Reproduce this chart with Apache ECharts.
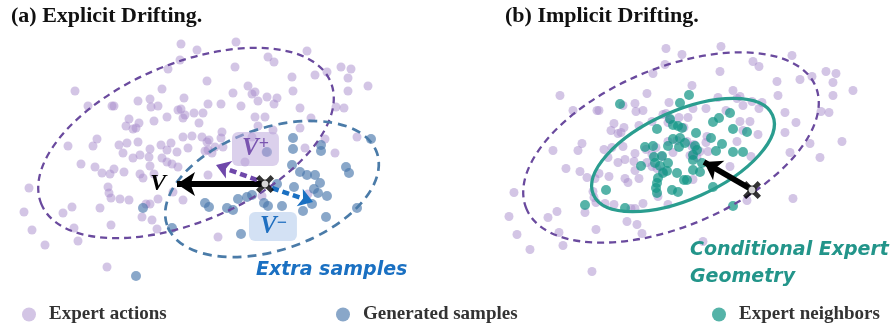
<!DOCTYPE html>
<html>
<head>
<meta charset="utf-8">
<script src="https://cdn.jsdelivr.net/npm/echarts@6/dist/echarts.min.js"></script>
<style>
  html, body { margin: 0; padding: 0; background: #fff; }
  #chart { width: 893px; height: 327px; }
</style>
</head>
<body>
<div id="chart"></div>
<script>
// 坐标单位 = 面板 (a) 的像素；面板 (b) 的专家点与 (a) 同一批，只是网格平移

const expertActions = [
  [181, 44], [236, 42], [197, 50], [307, 51], [180, 60], [268, 57], [274, 62], [235, 67],
  [168, 69], [315, 75], [327, 72], [341, 67], [351, 69], [348, 78], [292, 77], [207, 81],
  [248, 86], [255, 92], [252, 94], [368, 86], [348, 91], [293, 91], [75, 91], [162, 89],
  [233, 93], [258, 101], [267, 97], [277, 98], [274, 104], [184, 98], [150, 99], [138, 101],
  [88, 106], [112, 106], [114, 106], [151, 107], [158, 106], [208, 104], [221, 104], [241, 106],
  [300, 108], [336, 107], [344, 108], [178, 110], [181, 109], [194, 113], [203, 113], [185, 115],
  [183, 118], [167, 117], [129, 119], [154, 121], [139, 123], [199, 123], [255, 117], [265, 117],
  [311, 118], [126, 126], [133, 129], [136, 128], [258, 126], [300, 128], [273, 130], [222, 132],
  [97, 139], [93, 146], [68, 146], [119, 145], [127, 143], [138, 142], [171, 143], [161, 145],
  [183, 137], [192, 136], [202, 137], [209, 140], [221, 138], [252, 137], [357, 137], [325, 139],
  [305, 148], [335, 153], [207, 142], [208, 150], [215, 147], [212, 153], [223, 147], [205, 151],
  [188, 148], [177, 152], [167, 150], [150, 149], [123, 153], [140, 155], [133, 158], [149, 157],
  [162, 158], [81, 164], [95, 167], [102, 173], [110, 174], [114, 169], [124, 172], [140, 174],
  [143, 178], [150, 166], [154, 174], [167, 162], [172, 164], [178, 167], [245, 162], [208, 175],
  [29, 188], [108, 187], [109, 193], [111, 198], [120, 199], [129, 200], [150, 204], [146, 204],
  [158, 199], [183, 200], [173, 192], [24, 212], [63, 213], [72, 207], [100, 208], [142, 217],
  [152, 220], [32, 230], [74, 228], [111, 225], [157, 229], [45, 245], [78, 241], [107, 267],
  [218, 237], [308, 194], [262, 196], [266, 152]
];

const generatedSamples = [
  [371, 139], [293, 138], [293, 149], [321, 145], [321, 151], [267, 152], [292, 165], [300, 172],
  [307, 175], [315, 175], [346, 167], [349, 173], [320, 183], [294, 187], [314, 189], [318, 193],
  [327, 196], [312, 204], [303, 211], [357, 208], [326, 217], [205, 203], [209, 207], [227, 208],
  [233, 210], [238, 199], [247, 197], [252, 195], [264, 203], [268, 206], [277, 184], [282, 206],
  [241, 234], [143, 208], [172, 228], [136, 276]
];

// 画布像素坐标
const expertNeighbors = [
  [620, 104], [689, 95], [680, 103], [670, 119], [673, 125], [657, 129], [678, 126], [682, 128],
  [696, 133], [719, 118], [713, 122], [730, 113], [733, 129], [747, 132], [673, 139], [680, 138],
  [685, 143], [668, 146], [679, 147], [645, 147], [653, 146], [711, 138], [695, 146], [697, 150],
  [722, 144], [716, 151], [733, 152], [743, 152], [654, 157], [662, 156], [668, 163], [655, 163],
  [660, 166], [667, 171], [663, 173], [641, 166], [693, 155], [693, 160], [702, 163], [693, 170],
  [700, 172], [677, 173], [658, 178], [657, 183], [656, 188], [657, 193], [684, 180], [687, 180],
  [672, 190], [678, 192], [713, 187], [606, 190], [585, 205], [625, 208], [733, 206]
];

// [cx, cy, 长半轴, 短半轴, 倾角°]
const expertEllipse = [[186, 143, 157, 79, 23]];
const generatedEllipse = [[272, 189, 111, 61, 19]];
const neighborEllipse = [[683, 155, 98, 44, 24]];

// [起点, 终点]
const arrowV = [[262, 184], [177, 184]];
const arrowVPlus = [[257, 180], [216, 165]];
const arrowVMinus = [[272, 188], [313, 202]];
const arrowB = [[749, 188], [704, 162]];
const queryPoints = [[265, 184], [752, 190]];

const PURPLE_DOT = 'rgba(165, 138, 203, 0.62)';
const BLUE_DOT = 'rgba(75, 120, 172, 0.82)';
const TEAL_DOT = 'rgba(20, 150, 135, 0.9)';
const SERIF = 'Liberation Serif, Times New Roman, serif';
const HAND = 'Comic Sans MS, DejaVu Sans, sans-serif';

const CROSS = 'path://M3,0 L8,5 L13,0 L16,3 L11,8 L16,13 L13,16 L8,11 L3,16 L0,13 L5,8 L0,3 Z';

function ellipseRenderer(color, width, dash) {
  return function (params, api) {
    const c = api.coord([api.value(0), api.value(1)]);
    const s = api.size([api.value(2), api.value(3)]);
    return {
      type: 'ellipse',
      x: c[0],
      y: c[1],
      rotation: api.value(4) * Math.PI / 180,
      shape: { cx: 0, cy: 0, rx: Math.abs(s[0]), ry: Math.abs(s[1]) },
      style: { fill: null, stroke: color, lineWidth: width, lineDash: dash },
      silent: true,
    };
  };
}

function arrow(name, coords, color, width, head, type) {
  return {
    name: name,
    type: 'lines',
    coordinateSystem: 'cartesian2d',
    xAxisIndex: 0,
    yAxisIndex: 0,
    z: 6,
    symbol: ['none', 'arrow'],
    symbolSize: [0, head],
    lineStyle: { color: color, width: width, type: type, opacity: 1 },
    data: [{ coords: coords }],
    silent: true,
  };
}

const legendText = { fontFamily: SERIF, fontWeight: 'bold', fontSize: 19, color: '#333', padding: [0, 0, 0, 8] };

const chart = echarts.init(document.getElementById('chart'));

chart.setOption({
  animation: false,
  grid: [
    { left: 0, top: 0, width: 893, height: 327 },
    { left: 485, top: 4.5, width: 408, height: 322.5 },
  ],
  xAxis: [
    { gridIndex: 0, type: 'value', min: 0, max: 893, show: false },
    { gridIndex: 1, type: 'value', min: 0, max: 408, show: false },
  ],
  yAxis: [
    { gridIndex: 0, type: 'value', min: 0, max: 327, inverse: true, show: false },
    { gridIndex: 1, type: 'value', min: 0, max: 322.5, inverse: true, show: false },
  ],
  title: [
    { text: '(a) Explicit Drifting.', left: 6, top: 0, textStyle: { fontFamily: SERIF, fontWeight: 'bold', fontSize: 22, color: '#111' } },
    { text: '(b) Implicit Drifting.', left: 500, top: 0, textStyle: { fontFamily: SERIF, fontWeight: 'bold', fontSize: 22, color: '#111' } },
  ],
  legend: [
    { data: ['Expert actions'], left: 17, top: 300, icon: 'circle', itemWidth: 14, itemHeight: 14, textStyle: legendText },
    { data: ['Generated samples'], left: 331, top: 300, icon: 'circle', itemWidth: 14, itemHeight: 14, textStyle: legendText },
    { data: ['Expert neighbors'], left: 707, top: 300, icon: 'circle', itemWidth: 14, itemHeight: 14, textStyle: legendText },
  ],
  graphic: [
    { type: 'text', left: 150, top: 172, z: 20,
      style: { text: 'V', font: 'italic bold 24px ' + SERIF, fill: '#000' } },
    { type: 'text', left: 232, top: 132, z: 20,
      style: {
        text: '{v|V}{s|+}', backgroundColor: 'rgba(190, 170, 220, 0.55)', borderRadius: 6, padding: [3, 10, 3, 10],
        rich: {
          v: { font: 'italic bold 25px ' + SERIF, fill: '#7a55b0' },
          s: { font: 'bold 18px ' + SERIF, fill: '#7a55b0', verticalAlign: 'top', padding: [0, 0, 10, 0] },
        },
      } },
    { type: 'text', left: 249, top: 212, z: 20,
      style: {
        text: '{v|V}{s|−}', backgroundColor: 'rgba(175, 200, 235, 0.55)', borderRadius: 6, padding: [2, 10, 2, 11],
        rich: {
          v: { font: 'italic bold 25px ' + SERIF, fill: '#1f6fc0' },
          s: { font: 'bold 18px ' + SERIF, fill: '#1f6fc0', verticalAlign: 'top', padding: [0, 0, 6, 0] },
        },
      } },
    { type: 'text', left: 256, top: 261, z: 20,
      style: { text: 'Extra samples', font: 'italic bold 19px ' + HAND, fill: '#1a70c2' } },
    { type: 'text', left: 690, top: 241, z: 20,
      style: { text: 'Conditional Expert', font: 'italic bold 19px ' + HAND, fill: '#23958a' } },
    { type: 'text', left: 690, top: 268, z: 20,
      style: { text: 'Geometry', font: 'italic bold 19px ' + HAND, fill: '#23958a' } },
  ],
  series: [
    { name: 'Expert actions', type: 'scatter', xAxisIndex: 0, yAxisIndex: 0, data: expertActions,
      symbolSize: 9, itemStyle: { color: PURPLE_DOT }, silent: true },
    { name: 'Expert actions', type: 'scatter', xAxisIndex: 1, yAxisIndex: 1, data: expertActions,
      symbolSize: 9, itemStyle: { color: PURPLE_DOT }, silent: true },
    { name: 'Generated samples', type: 'scatter', xAxisIndex: 0, yAxisIndex: 0, data: generatedSamples,
      symbolSize: 10, itemStyle: { color: BLUE_DOT }, silent: true },
    { name: 'Expert neighbors', type: 'scatter', xAxisIndex: 0, yAxisIndex: 0, data: expertNeighbors,
      symbolSize: 10, itemStyle: { color: TEAL_DOT }, silent: true },
    { type: 'custom', xAxisIndex: 0, yAxisIndex: 0, data: expertEllipse, clip: false, z: 4,
      encode: { x: 0, y: 1 }, renderItem: ellipseRenderer('#6a4a9e', 2.3, [7, 5]) },
    { type: 'custom', xAxisIndex: 1, yAxisIndex: 1, data: expertEllipse, clip: false, z: 4,
      encode: { x: 0, y: 1 }, renderItem: ellipseRenderer('#6a4a9e', 2.3, [7, 5]) },
    { type: 'custom', xAxisIndex: 0, yAxisIndex: 0, data: generatedEllipse, clip: false, z: 4,
      encode: { x: 0, y: 1 }, renderItem: ellipseRenderer('#4a7ba8', 2.7, [9, 6]) },
    { type: 'custom', xAxisIndex: 0, yAxisIndex: 0, data: neighborEllipse, clip: false, z: 4,
      encode: { x: 0, y: 1 }, renderItem: ellipseRenderer('#2a9d8f', 3.3, null) },
    arrow('V', arrowV, '#000', 6, 18, 'solid'),
    arrow('V+', arrowVPlus, '#6f48aa', 4.5, 14, [7, 4]),
    arrow('V-', arrowVMinus, '#1a70c2', 4.5, 14, [7, 4]),
    arrow('drift', arrowB, '#000', 5.5, 17, 'solid'),
    { type: 'scatter', xAxisIndex: 0, yAxisIndex: 0, data: queryPoints, z: 8, symbol: CROSS,
      symbolSize: 18, itemStyle: { color: '#000' }, silent: true },
    { type: 'scatter', xAxisIndex: 0, yAxisIndex: 0, data: queryPoints, z: 9, symbol: 'circle',
      symbolSize: 8, itemStyle: { color: '#fff', borderColor: '#000', borderWidth: 1.2 }, silent: true },
  ],
});
</script>
</body>
</html>
